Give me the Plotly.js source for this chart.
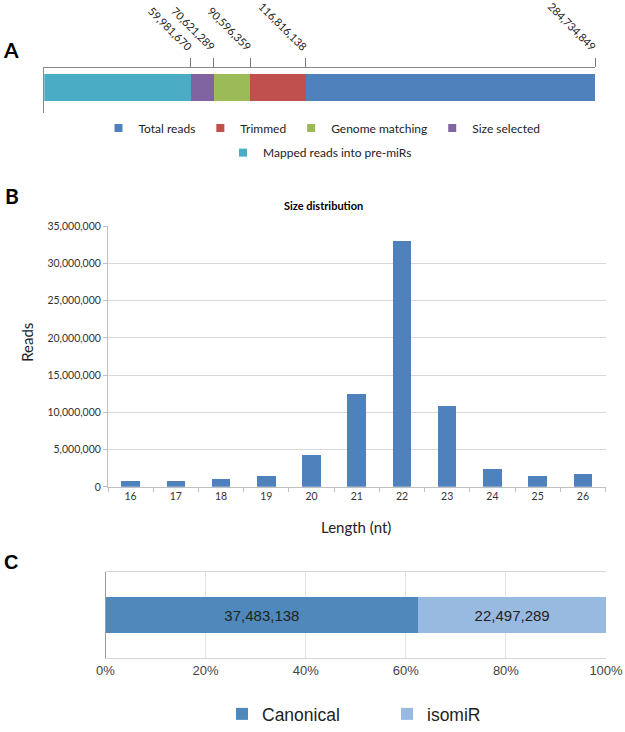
<!DOCTYPE html>
<html>
<head>
<meta charset="utf-8">
<script src="https://cdn.plot.ly/plotly-3.0.1.min.js"></script>
<style>html,body{margin:0;padding:0;background:#fff;}#chart{width:625px;height:732px;}</style>
</head>
<body>
<div id="chart"></div>
<script>
// ---------- Panel A data ----------
const stageNames = ['Mapped reads into pre-miRs', 'Size selected', 'Genome matching', 'Trimmed', 'Total reads'];
const stageReads = [59981670, 70621289, 90596359, 116816138, 284734849];
// drawn length of each segment, % of the bar
const stageSegmentShare = [26.6, 4.2, 6.6, 10.1, 52.5];

// ---------- Panel B data ----------
const lengthLabels = ['16', '17', '18', '19', '20', '21', '22', '23', '24', '25', '26'];
const lengthReads = [790000, 790000, 1100000, 1450000, 4310000, 12490000, 33000000, 10900000, 2330000, 1450000, 1760000];
const readTicks = [0, 5000000, 10000000, 15000000, 20000000, 25000000, 30000000, 35000000];

// ---------- Panel C data ----------
const isoNames = ['Canonical', 'isomiR'];
const isoReads = [37483138, 22497289];
const pctTicks = [0, 20, 40, 60, 80, 100];

// ---------- styles ----------
const stageColors = ['#4BACC6', '#8064A2', '#9BBB59', '#C0504D', '#4F81BD'];
const isoColors = ['#4F88BB', '#98B9E0'];
const calibri = 'Lato, "Open Sans", sans-serif';
const arial = '"Liberation Sans", Arial, sans-serif';
const W = 625, H = 732;
const px = v => v / W, py = v => 1 - v / H;

const traces = [];
// Panel A stacked bar
let cum = 0; const cumPos = [];
stageNames.forEach((n, i) => {
  cum += stageSegmentShare[i]; cumPos.push(cum);
  traces.push({type: 'bar', orientation: 'h', x: [stageSegmentShare[i]], y: [0], width: 0.6,
    xaxis: 'x', yaxis: 'y', name: n, marker: {color: stageColors[i]}, showlegend: false, hoverinfo: 'skip'});
});
// legend proxies for panel A (small squares)
stageNames.forEach((n, i) => {
  traces.push({type: 'scatter', mode: 'markers', x: [null], y: [null], xaxis: 'x', yaxis: 'y', name: n,
    marker: {symbol: 'square', size: 8, color: stageColors[i]},
    legend: i === 0 ? 'legend2' : 'legend', hoverinfo: 'skip'});
});
// Panel B
traces.push({type: 'bar', x: lengthLabels, y: lengthReads, xaxis: 'x2', yaxis: 'y2', width: 0.41,
  marker: {color: '#4F81BD'}, showlegend: false, hoverinfo: 'skip'});
// Panel C
const isoTotal = isoReads.reduce((a, b) => a + b, 0);
isoNames.forEach((n, i) => {
  traces.push({type: 'bar', orientation: 'h', x: [isoReads[i] / isoTotal * 100], y: [0], width: 0.41,
    xaxis: 'x3', yaxis: 'y3', name: n, marker: {color: isoColors[i]},
    text: [isoReads[i].toLocaleString('en-US')], textposition: 'inside', insidetextanchor: 'middle',
    textfont: {family: arial, size: 15, color: '#222'}, legend: 'legend3', hoverinfo: 'skip'});
});

const ann = (text, x, y, font, extra) => Object.assign({text, x: px(x), y: py(y), xref: 'paper', yref: 'paper',
  xanchor: 'center', yanchor: 'middle', showarrow: false, font}, extra || {});

const layout = {
  width: W, height: H, margin: {l: 0, r: 0, t: 0, b: 0},
  paper_bgcolor: '#fff', plot_bgcolor: '#fff', barmode: 'stack', showlegend: true,
  font: {family: calibri, color: '#222'},
  xaxis: {domain: [px(44.3), px(595)], anchor: 'y', side: 'top', range: [0, 100],
    tickmode: 'array', tickvals: cumPos, ticktext: stageReads.map(v => v.toLocaleString('en-US')),
    tickangle: 45, ticks: 'outside', ticklen: 9, tickcolor: '#777', showline: true, linecolor: '#888',
    showgrid: false, zeroline: false, tickfont: {family: calibri, size: 11, color: '#222'}, fixedrange: true},
  yaxis: {domain: [py(115), py(69)], anchor: 'x', range: [-0.55, 0.45], showticklabels: false,
    showline: true, linecolor: '#888', showgrid: false, zeroline: false, ticks: '', fixedrange: true},
  xaxis2: {domain: [px(108), px(605.5)], anchor: 'y2', type: 'category', ticks: 'outside', tickson: 'boundaries',
    ticklen: 4, tickcolor: '#bfbfbf', showline: true, linecolor: '#bfbfbf', showgrid: false, zeroline: false,
    tickfont: {family: calibri, size: 10.5, color: '#333'}, fixedrange: true},
  yaxis2: {domain: [py(497), py(231)], anchor: 'x2', range: [0, 35000000], tickmode: 'array', tickvals: readTicks,
    tickformat: ',', ticks: 'outside', ticklen: 4, tickcolor: '#bfbfbf', showline: true, linecolor: '#bfbfbf',
    showgrid: true, gridcolor: '#d9d9d9', zeroline: false, tickfont: {family: calibri, size: 10.5, color: '#333'},
    fixedrange: true},
  xaxis3: {domain: [px(105.5), px(606)], anchor: 'y3', range: [0, 100], tickmode: 'array', tickvals: pctTicks,
    ticktext: pctTicks.map(v => v + '%'), ticks: '', showline: true, mirror: true, linecolor: '#d4d4d4',
    showgrid: true, gridcolor: '#e4e4e4', zeroline: false, tickfont: {family: arial, size: 13, color: '#444'},
    fixedrange: true},
  yaxis3: {domain: [py(672), py(584)], anchor: 'x3', range: [-0.5, 0.5], showticklabels: false, showline: true,
    linecolor: '#9a9a9a', showgrid: false, zeroline: false, ticks: '', fixedrange: true},
  legend: {orientation: 'h', x: px(322), xanchor: 'center', y: py(116), yanchor: 'top', traceorder: 'reversed',
    font: {family: calibri, size: 12, color: '#222'}, bgcolor: 'rgba(0,0,0,0)'},
  legend2: {orientation: 'h', x: px(320), xanchor: 'center', y: py(141), yanchor: 'top',
    font: {family: calibri, size: 12, color: '#222'}, bgcolor: 'rgba(0,0,0,0)'},
  legend3: {orientation: 'h', x: px(222), xanchor: 'left', y: py(711), yanchor: 'top', traceorder: 'normal',
    entrywidth: 120, font: {family: arial, size: 17.5, color: '#222'}, bgcolor: 'rgba(0,0,0,0)'},
  annotations: [
    ann('<b>A</b>', 11, 51, {family: calibri, size: 21, color: '#000'}),
    ann('<b>B</b>', 12, 200, {family: calibri, size: 21, color: '#000'}),
    ann('<b>C</b>', 11, 574, {family: arial, size: 20, color: '#000'}),
    ann('<b>Size distribution</b>', 323, 210, {family: calibri, size: 11, color: '#000'}),
    ann('Reads', 27, 350, {family: calibri, size: 15, color: '#222'}, {textangle: -90}),
    ann('Length (nt)', 356, 538, {family: calibri, size: 15, color: '#222'})
  ]
};

Plotly.newPlot('chart', traces, layout, {staticPlot: true, displayModeBar: false});
</script>
</body>
</html>
